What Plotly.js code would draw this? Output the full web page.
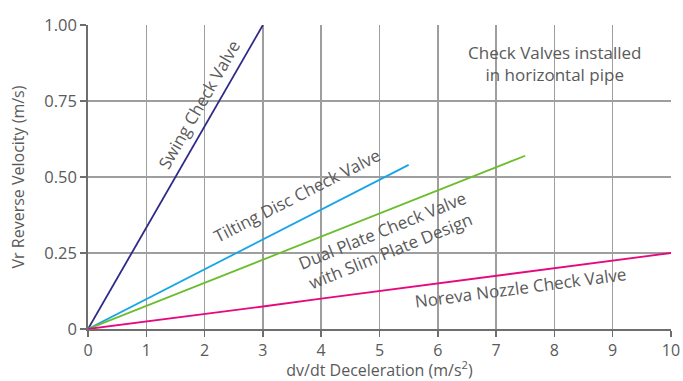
<!DOCTYPE html>
<html>
<head>
<meta charset="utf-8">
<script src="https://cdn.plot.ly/plotly-3.0.1.min.js"></script>
<style>html,body{margin:0;padding:0;background:#fff}#chart{width:683px;height:381px}</style>
</head>
<body>
<div id="chart"></div>
<script>
// Data
const swingX = [0, 3];
const swingY = [0, 1.0];
const tiltX = [0, 5.5];
const tiltY = [0, 0.54];
const dualX = [0, 7.5];
const dualY = [0, 0.57];
const norevaX = [0, 1, 2, 3, 4, 5, 6, 7, 8, 9, 10];
const norevaY = [0, 0.024, 0.050, 0.074, 0.100, 0.125, 0.150, 0.174, 0.199, 0.225, 0.25];

const xTickVals = [0, 1, 2, 3, 4, 5, 6, 7, 8, 9, 10];
const yTickVals = [0, 0.25, 0.5, 0.75, 1.0];
const yTickText = ['0', '0.25', '0.50', '0.75', '1.00'];

const FONT = '"Open Sans", "Noto Sans", sans-serif';
const TXT = '#5a5a5a';

const traces = [
  {x: swingX, y: swingY, mode: 'lines', line: {color: '#2e2a86', width: 1.8}, name: 'Swing Check Valve'},
  {x: tiltX, y: tiltY, mode: 'lines', line: {color: '#18a5e6', width: 1.8}, name: 'Tilting Disc Check Valve'},
  {x: dualX, y: dualY, mode: 'lines', line: {color: '#6cbd2d', width: 1.8}, name: 'Dual Plate Check Valve'},
  {x: norevaX, y: norevaY, mode: 'lines', line: {color: '#e5087f', width: 1.8}, name: 'Noreva Nozzle Check Valve'}
];

const ann = (x, y, text, angle, size) => ({
  x: x, y: y, xref: 'x', yref: 'y', text: text, showarrow: false,
  textangle: angle, font: {family: FONT, size: size || 17, color: TXT}
});

const layout = {
  width: 683, height: 381,
  margin: {l: 88, r: 12, t: 25, b: 52},
  paper_bgcolor: '#fff', plot_bgcolor: '#fff',
  showlegend: false,
  font: {family: FONT, color: TXT, size: 16},
  xaxis: {
    range: [0, 10], tickvals: xTickVals, ticks: 'outside', ticklen: 6, tickcolor: '#6e6e6e', tickwidth: 1.5,
    showline: true, linecolor: '#6e6e6e', linewidth: 1.8,
    showgrid: true, gridcolor: '#9e9e9e', gridwidth: 1.5, zeroline: false,
    tickfont: {family: FONT, size: 16, color: TXT},
    title: {text: 'dv/dt Deceleration (m/s<sup>2</sup>)', font: {family: FONT, size: 16, color: TXT}, standoff: 0}
  },
  yaxis: {
    range: [0, 1.0], tickvals: yTickVals, ticktext: yTickText, ticks: 'outside', ticklen: 6, tickcolor: '#6e6e6e', tickwidth: 1.5,
    showline: true, linecolor: '#6e6e6e', linewidth: 1.8,
    showgrid: true, gridcolor: '#9e9e9e', gridwidth: 1.5, zeroline: false,
    tickfont: {family: FONT, size: 16.5, color: TXT},
    title: {text: 'Vr Reverse Velocity (m/s)', font: {family: FONT, size: 16, color: TXT}, standoff: 16}
  },
  annotations: [
    ann(1.9, 0.74, 'Swing Check Valve', -60),
    ann(3.58, 0.44, 'Tilting Disc Check Valve', -27),
    ann(5.12, 0.29, 'Dual Plate Check Valve<br>with Slim Plate Design', -22),
    ann(7.42, 0.135, 'Noreva Nozzle Check Valve', -7.5),
    ann(8.0, 0.875, 'Check Valves installed<br>in horizontal pipe', 0)
  ]
};

Plotly.newPlot('chart', traces, layout, {staticPlot: true, displayModeBar: false});
</script>
</body>
</html>
